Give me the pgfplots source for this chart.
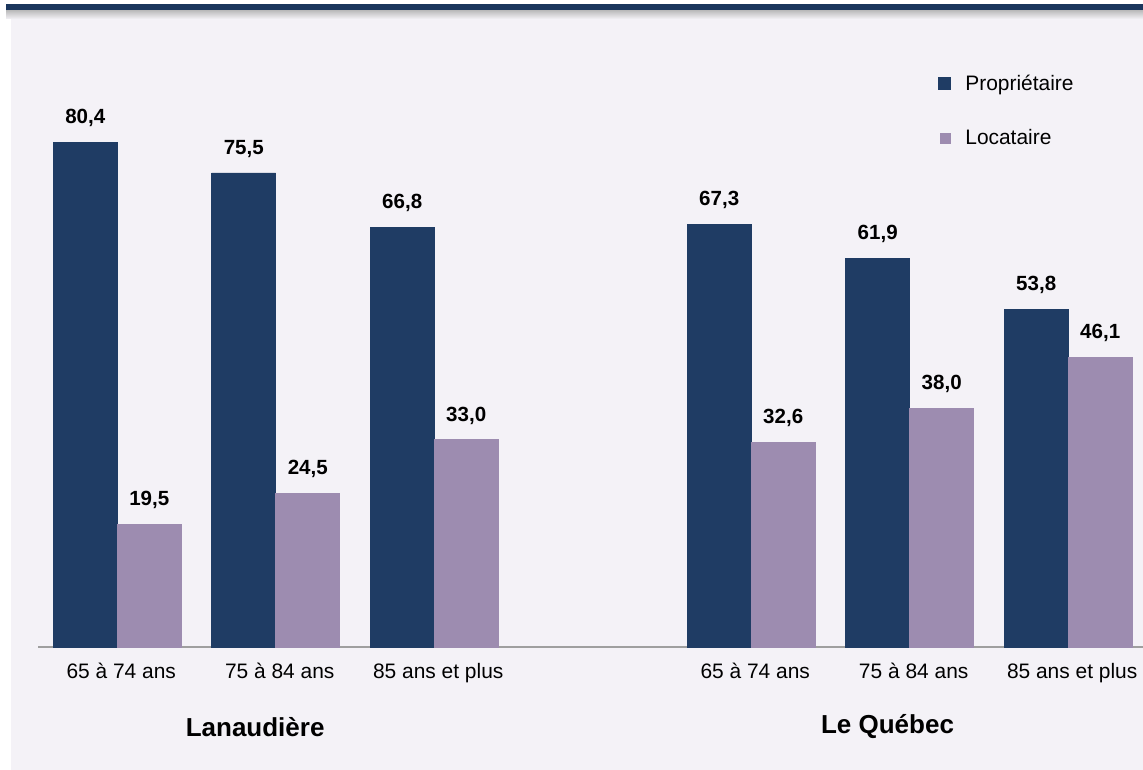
\documentclass[border=0pt]{standalone}
\usepackage{pgfplots}
\pgfplotsset{compat=1.18}
\usepackage{fontspec}
\setmainfont{Liberation Sans}
\definecolor{navy}{HTML}{1F3C64}
\definecolor{lav}{HTML}{9D8CB0}
\definecolor{bg}{HTML}{F4F2F7}
\definecolor{band}{HTML}{1B365D}
\begin{document}
\begin{tikzpicture}
\useasboundingbox (0,0) rectangle (857.25pt,-577.5pt);
\fill[white] (0,0) rectangle (857.25pt,-577.5pt);
\fill[bg] (8.25pt,-14.25pt) rectangle (857.25pt,-577.5pt);
\shade[top color=gray!55, bottom color=bg] (4.5pt,-7.5pt) rectangle (857.25pt,-14.25pt);
\fill[band] (4.5pt,-3pt) rectangle (857.25pt,-7.5pt);
\begin{axis}[
  at={(28.5pt,-485.25pt)}, anchor=south west,
  scale only axis, width=828.75pt, height=471pt,
  xmin=-0.5, xmax=6.472, ymin=0, ymax=100,
  axis x line*=bottom, axis y line=none,
  x axis line style={-, draw=gray!75, line width=1.1pt},
  ybar=0pt, bar width=48pt,
  xtick={0,1,2,4,5,6},
  xticklabels={65 à 74 ans, 75 à 84 ans, 85 ans et plus, 65 à 74 ans, 75 à 84 ans, 85 ans et plus},
  major tick length=0pt, ytick=\empty,
  xticklabel style={font=\fontsize{15.7}{18}\selectfont, yshift=-8.5pt, xshift=3pt},
  nodes near coords, point meta=explicit symbolic,
  every node near coord/.append style={font=\bfseries\fontsize{15.4}{18}\selectfont, anchor=base, yshift=14pt, text=black},
  clip=false,
  legend style={at={(rel axis cs:0.811,0.92)}, anchor=north west, draw=none, fill=none,
    font=\fontsize{15.7}{18}\selectfont, row sep=24pt, legend cell align=left},
]
\addplot[fill=navy, draw=navy, legend image code/.code={\fill[navy] (0pt,-4.5pt) rectangle (9pt,4.5pt); \path[draw=none,fill=none] (0pt,0pt) -- (18pt,0pt);}]
  coordinates {(0,80.4)[80,4] (1,75.5)[75,5] (2,66.8)[66,8] (4,67.3)[67,3] (5,61.9)[61,9] (6,53.8)[53,8]};
\addlegendentry{Propriétaire}
\addplot[fill=lav, draw=lav, legend image code/.code={\fill[lav] (1pt,-3.75pt) rectangle (8.5pt,3.75pt); \path[draw=none,fill=none] (0pt,0pt) -- (18pt,0pt);}]
  coordinates {(0,19.5)[19,5] (1,24.5)[24,5] (2,33.0)[33,0] (4,32.6)[32,6] (5,38.0)[38,0] (6,46.1)[46,1]};
\addlegendentry{Locataire}
\node[font=\bfseries\fontsize{19.5}{22}\selectfont] at (axis cs:0.87,0) [yshift=-60pt] {Lanaudière};
\node[font=\bfseries\fontsize{19.5}{22}\selectfont] at (axis cs:4.86,0) [yshift=-60pt] {Le Québec};
\end{axis}
\end{tikzpicture}
\end{document}
